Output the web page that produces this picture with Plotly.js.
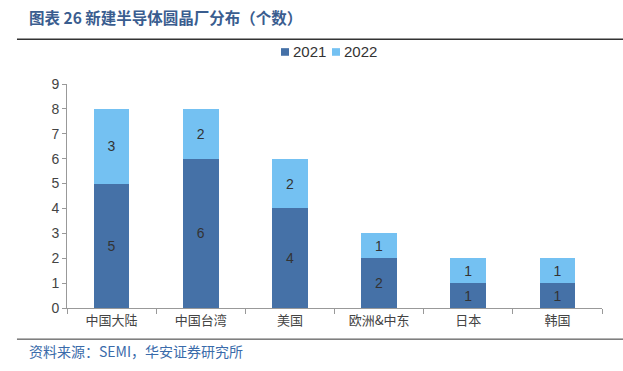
<!DOCTYPE html>
<html><head><meta charset="utf-8">
<script src="https://cdn.plot.ly/plotly-3.0.1.min.js"></script>
<style>html,body{margin:0;padding:0;background:#fff;}#c{width:623px;height:371px;}</style>
</head><body><div id="c"></div>
<script>
const categories = ["中国大陆","中国台湾","美国","欧洲&中东","日本","韩国"];
const seriesNames = ["2021","2022"];
const v2021 = [5,6,4,2,1,1];
const v2022 = [3,2,2,1,1,1];
const yTicks = [0,1,2,3,4,5,6,7,8,9];

const colors = ['#4571A7','#74C1F2'];
const cjk = '"Noto Sans CJK SC", "Noto Sans", sans-serif';
const traces = [
 {type:'bar', name:seriesNames[0], x:categories, y:v2021, text:v2021.map(String), textposition:'inside', insidetextanchor:'middle',
  textfont:{size:14,color:'#333',family:'Liberation Sans, Arial'}, marker:{color:colors[0]}, width:0.4},
 {type:'bar', name:seriesNames[1], x:categories, y:v2022, text:v2022.map(String), textposition:'inside', insidetextanchor:'middle',
  textfont:{size:14,color:'#333',family:'Liberation Sans, Arial'}, marker:{color:colors[1]}, width:0.4}
];
// manual compact legend (reference style: small square right next to label)
const legX = [0.4, 0.4953];
const legendShapes = legX.map((x,i)=>({type:'rect',xref:'paper',yref:'paper',x0:x,x1:x+0.015,y0:1.126,y1:1.16,
  fillcolor:colors[i],line:{width:0}}));
const legendAnn = legX.map((x,i)=>({xref:'paper',yref:'paper',x:x+0.018,y:1.143,xanchor:'left',yanchor:'middle',showarrow:false,
  text:seriesNames[i],font:{size:15,color:'#333',family:'Liberation Sans, Arial'}}));
const layout = {
 width:623, height:371, barmode:'stack',
 margin:{l:67,r:21,t:84,b:63},
 paper_bgcolor:'#fff', plot_bgcolor:'#fff',
 showlegend:false,
 xaxis:{type:'category', showline:true, linecolor:'#999', linewidth:1, ticks:'outside', tickson:'boundaries', ticklen:5, tickcolor:'#999',
  tickfont:{size:13,color:'#444',family:cjk}, showgrid:false, zeroline:false},
 yaxis:{range:[0,9], tickvals:yTicks, showline:true, linecolor:'#999', linewidth:1, ticks:'outside', ticklen:4, tickcolor:'#999',
  tickfont:{size:14,color:'#444',family:'Liberation Sans, Arial'}, showgrid:false, zeroline:false},
 annotations:[
  {xref:'paper',yref:'paper',x:-0.0748,y:1.299,xanchor:'left',yanchor:'middle',showarrow:false,
   text:'<b>图表 26 新建半导体圆晶厂分布（个数）</b>', font:{size:15.5,color:'#3A5D8F',family:cjk}},
  {xref:'paper',yref:'paper',x:-0.0748,y:-0.192,xanchor:'left',yanchor:'middle',showarrow:false,
   text:'资料来源：SEMI，华安证券研究所', font:{size:14,color:'#3A6BAA',family:cjk}}
 ].concat(legendAnn),
 shapes:[
  {type:'line',xref:'paper',yref:'paper',x0:-0.0935,x1:1.04,y0:1.2,y1:1.2,line:{color:'#333',width:1.5}},
  {type:'line',xref:'paper',yref:'paper',x0:-0.0935,x1:1.04,y0:-0.139,y1:-0.139,line:{color:'#333',width:1}}
 ].concat(legendShapes)
};
Plotly.newPlot('c', traces, layout, {displayModeBar:false});
</script></body></html>
